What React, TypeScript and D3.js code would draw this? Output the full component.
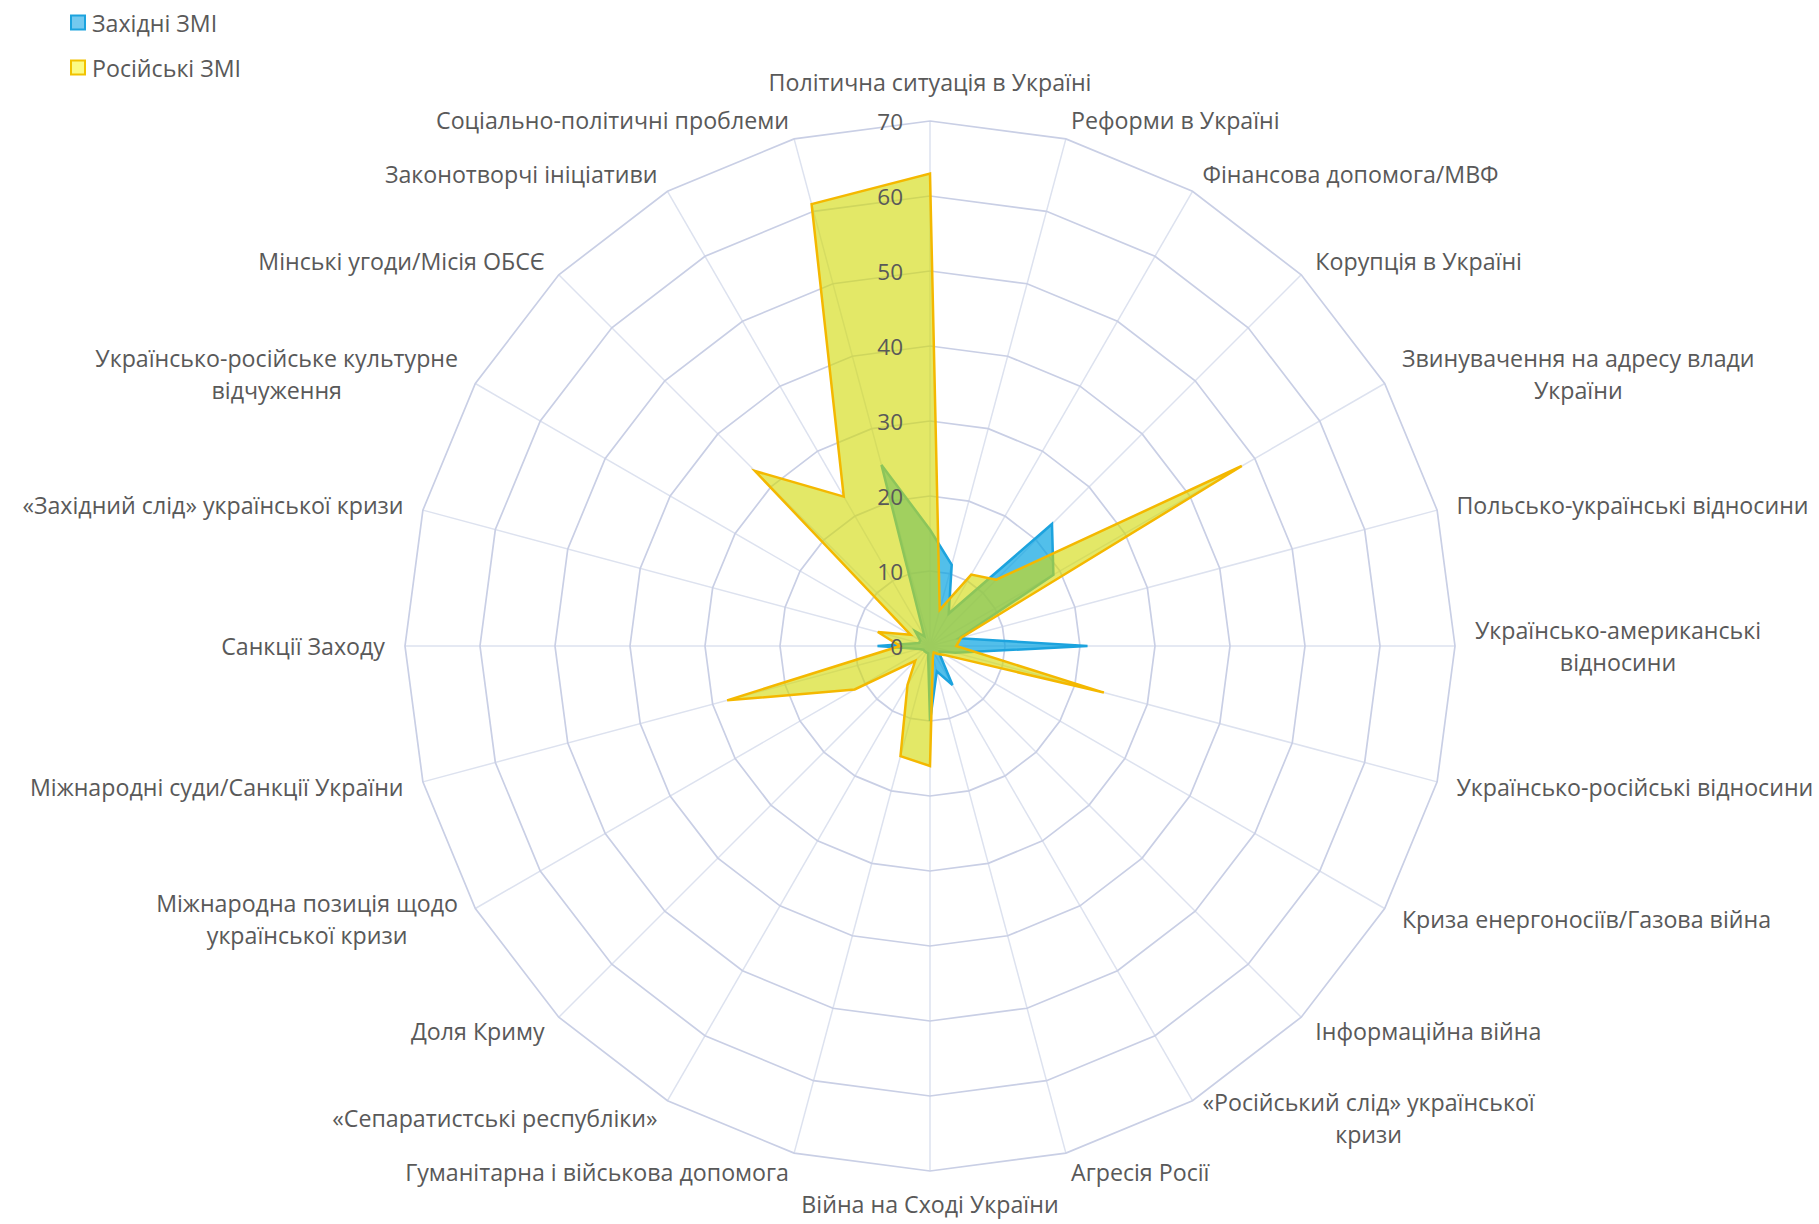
import * as d3 from "d3";
import { useEffect, useRef } from "react";

const categories: string[][] = [
  ["Політична ситуація в Україні"],
  ["Реформи в Україні"],
  ["Фінансова допомога/МВФ"],
  ["Корупція в Україні"],
  ["Звинувачення на адресу влади", "України"],
  ["Польсько-українські відносини"],
  ["Українсько-американські", "відносини"],
  ["Українсько-російські відносини"],
  ["Криза енергоносіїв/Газова війна"],
  ["Інформаційна війна"],
  ["«Російський слід» української", "кризи"],
  ["Агресія Росії"],
  ["Війна на Сході України"],
  ["Гуманітарна і військова допомога"],
  ["«Сепаратистські республіки»"],
  ["Доля Криму"],
  ["Міжнародна позиція щодо", "української кризи"],
  ["Міжнародні суди/Санкції України"],
  ["Санкції Заходу"],
  ["«Західний слід» української кризи"],
  ["Українсько-російське культурне", "відчуження"],
  ["Мінські угоди/Місія ОБСЄ"],
  ["Законотворчі ініціативи"],
  ["Соціально-політичні проблеми"],
];

const westernMedia = [
  15.5, 11.2, 5, 23, 19, 4, 21, 3.5, 1.5, 2, 6, 3.5, 10, 1, 1, 1, 1, 1.5, 7,
  1.5, 1.5, 2.8, 1.5, 25,
];

const russianMedia = [
  63, 5, 11, 12.5, 48, 4.3, 3.5, 24, 2.5, 1.5, 1, 1.5, 16, 15.2, 6, 2.8, 11.6,
  28, 4, 7.2, 3, 33, 23, 61,
];

const ticks = [0, 10, 20, 30, 40, 50, 60, 70];

const seriesNames = ["Західні ЗМІ", "Російські ЗМІ"];

const App = () => {
  const ref = useRef<SVGSVGElement | null>(null);

  useEffect(() => {
    const svg = d3.select(ref.current);
    svg.selectAll("*").remove();

    const width = 1819;
    const height = 1224;
    const cx = 930;
    const cy = 646;
    const radius = 525;
    const font = "'Open Sans', 'Noto Sans', sans-serif";
    const textColor = "#595959";
    const labelSize = "23.2px";

    svg.attr("width", width).attr("height", height);

    const r = d3.scaleLinear().domain([0, 70]).range([0, radius]);
    const angle = d3
      .scaleLinear()
      .domain([0, categories.length])
      .range([0, 2 * Math.PI]);

    const g = svg.append("g").attr("transform", `translate(${cx},${cy})`);

    // spokes
    g.selectAll("line.spoke")
      .data(categories)
      .enter()
      .append("line")
      .attr("class", "spoke")
      .attr("x1", 0)
      .attr("y1", 0)
      .attr("x2", (_, i) => r(70) * Math.sin(angle(i)))
      .attr("y2", (_, i) => -r(70) * Math.cos(angle(i)))
      .attr("stroke", "#dde2ef")
      .attr("stroke-width", 1.5);

    // rings
    const ringLine = d3
      .lineRadial<number>()
      .angle((_, i) => angle(i))
      .curve(d3.curveLinearClosed);

    g.selectAll("path.ring")
      .data(ticks.slice(1))
      .enter()
      .append("path")
      .attr("class", "ring")
      .attr("d", (t) => ringLine.radius(() => r(t))(categories.map(() => t)))
      .attr("fill", "none")
      .attr("stroke", "#c9cfe5")
      .attr("stroke-width", 1.7);

    const areaLine = d3
      .lineRadial<number>()
      .angle((_, i) => angle(i))
      .radius((d) => r(d))
      .curve(d3.curveLinearClosed);

    g.append("path")
      .attr("d", areaLine(westernMedia))
      .attr("fill", "rgba(0, 160, 224, 0.68)")
      .attr("stroke", "#1ca3de")
      .attr("stroke-width", 2.5)
      .attr("stroke-linejoin", "miter");

    g.append("path")
      .attr("d", areaLine(russianMedia))
      .attr("fill", "rgba(210, 218, 10, 0.62)")
      .attr("stroke", "#f4b800")
      .attr("stroke-width", 2.5)
      .attr("stroke-linejoin", "miter");

    // tick labels
    g.selectAll("text.tick")
      .data(ticks)
      .enter()
      .append("text")
      .attr("class", "tick")
      .attr("x", -27)
      .attr("y", (t) => -r(t))
      .attr("text-anchor", "end")
      .attr("dominant-baseline", "central")
      .style("font-family", font)
      .style("font-size", "22.5px")
      .style("fill", textColor)
      .text((t) => t);

    // category labels
    const lineGap = 32;
    categories.forEach((lines, i) => {
      const a = angle(i);
      const s = Math.sin(a);
      const c = Math.cos(a);
      const vertical = Math.abs(s) < 0.01;
      const rr = vertical ? (c > 0 ? 564 : 558) : 545;
      const ax = rr * s;
      const ay = -rr * c;

      const lg = g.append("g");
      const texts = lines.map((ln, k) =>
        lg
          .append("text")
          .attr("y", ay + (k - (lines.length - 1) / 2) * lineGap)
          .attr("dominant-baseline", "central")
          .attr("text-anchor", "middle")
          .style("font-family", font)
          .style("font-size", labelSize)
          .style("fill", textColor)
          .text(ln)
      );
      const widths = texts.map(
        (t) => (t.node() as SVGTextElement).getComputedTextLength()
      );
      const bw = Math.max(...widths);
      const midX = vertical ? ax : s > 0 ? ax + bw / 2 : ax - bw / 2;
      texts.forEach((t) => t.attr("x", midX));
    });

    // legend
    const legendColors = [
      { fill: "#74c9ef", stroke: "#1ca3de" },
      { fill: "#fbfb84", stroke: "#f2c200" },
    ];
    seriesNames.forEach((name, i) => {
      const y = 22.5 + i * 45;
      svg
        .append("rect")
        .attr("x", 71)
        .attr("y", y - 7)
        .attr("width", 14)
        .attr("height", 14)
        .attr("fill", legendColors[i].fill)
        .attr("stroke", legendColors[i].stroke)
        .attr("stroke-width", 2);
      svg
        .append("text")
        .attr("x", 92)
        .attr("y", y)
        .attr("dominant-baseline", "central")
        .style("font-family", font)
        .style("font-size", labelSize)
        .style("fill", textColor)
        .text(name);
    });
  }, []);

  return (
    <div style={{ position: "absolute", left: 0, top: 0, background: "#fff" }}>
      <svg ref={ref} style={{ display: "block" }}></svg>
    </div>
  );
};

export default App;
